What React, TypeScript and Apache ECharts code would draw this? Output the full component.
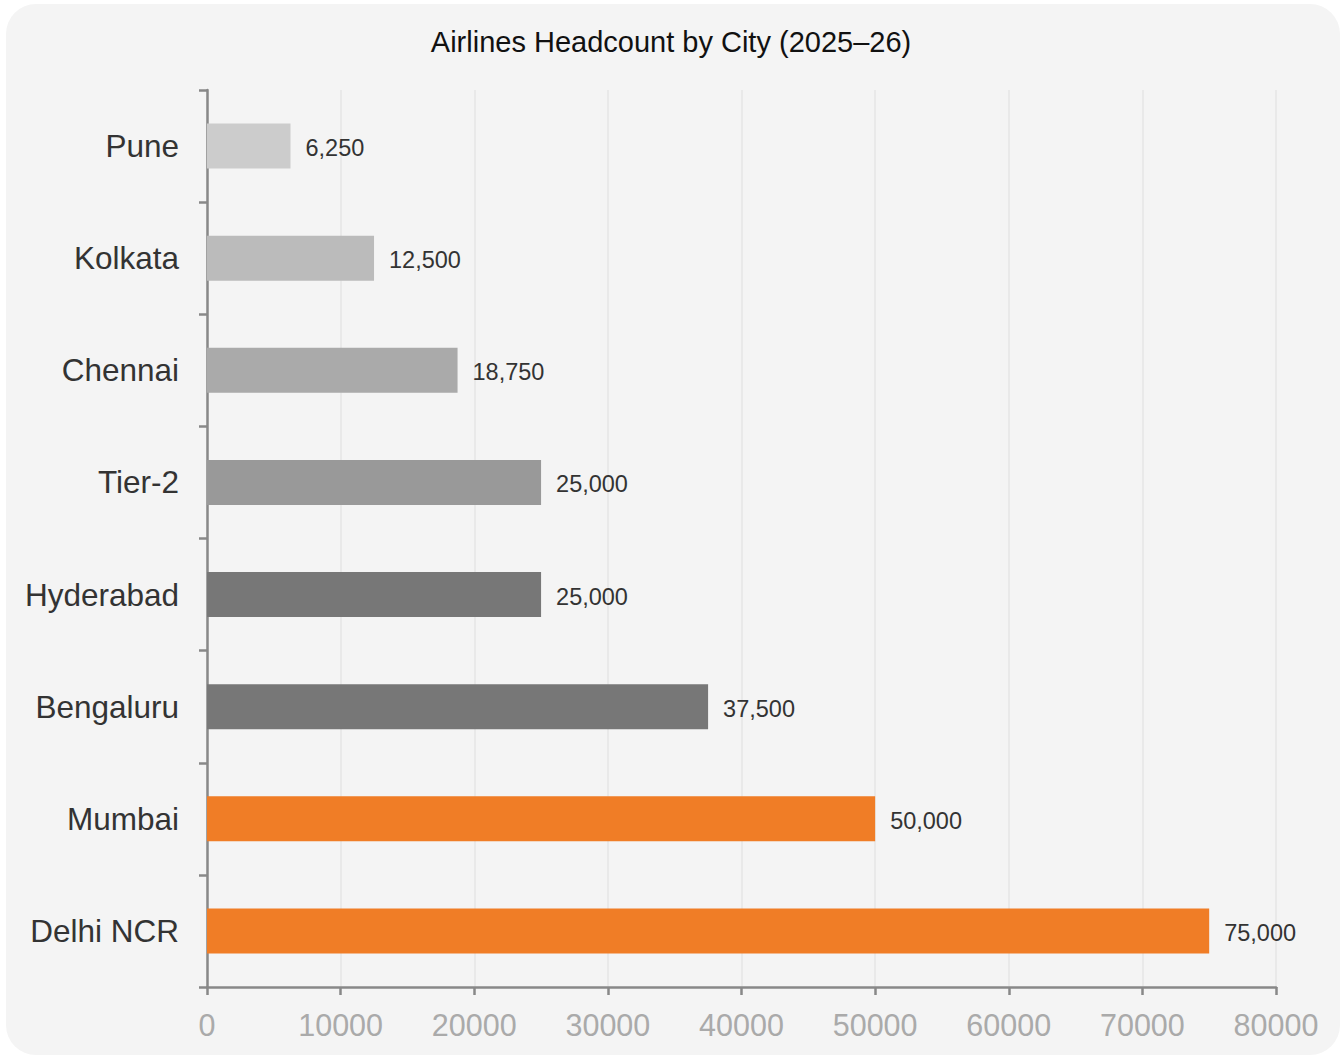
import React, { useEffect, useRef } from "react";
import * as echarts from "echarts";

const cities = ["Pune", "Kolkata", "Chennai", "Tier-2", "Hyderabad", "Bengaluru", "Mumbai", "Delhi NCR"];
const headcount = [6250, 12500, 18750, 25000, 25000, 37500, 50000, 75000];
const barColors = ["#cccccc", "#bbbbbb", "#aaaaaa", "#999999", "#777777", "#777777", "#f07d26", "#f07d26"];
const titleText = "Airlines Headcount by City (2025\u201326)";

const FONT = "Arial, 'Liberation Sans', Helvetica, sans-serif";

export default function App() {
  const ref = useRef<HTMLDivElement>(null);
  useEffect(() => {
    if (!ref.current) return;
    const chart = echarts.init(ref.current, undefined, { renderer: "svg" });
    chart.setOption({
      animation: false,
      backgroundColor: "transparent",
      textStyle: { fontFamily: FONT },
      graphic: [
        {
          type: "rect",
          z: -10,
          silent: true,
          shape: { x: 6, y: 4, width: 1334, height: 1051, r: 30 },
          style: { fill: "#f4f4f4" },
        },
      ],
      title: {
        text: titleText,
        left: "center",
        top: 22,
        textStyle: { fontFamily: FONT, fontSize: 29, fontWeight: "normal", color: "#111" },
      },
      grid: { left: 207, right: 66, top: 90, bottom: 71, containLabel: false },
      xAxis: {
        type: "value",
        min: 0,
        max: 80000,
        interval: 10000,
        axisLine: { show: true, lineStyle: { color: "#888", width: 2.5 } },
        axisTick: { show: true, length: 8, lineStyle: { color: "#888", width: 2.5 } },
        axisLabel: {
          color: "#aaa",
          fontSize: 30.5,
          fontFamily: FONT,
          margin: 22,
          formatter: (v: number) => String(v),
        },
        splitLine: { show: true, lineStyle: { color: "#e6e6e6", width: 1.5 } },
      },
      yAxis: {
        type: "category",
        data: cities,
        inverse: true,
        axisLine: { show: true, lineStyle: { color: "#888", width: 2.5 } },
        axisTick: { show: true, length: 8, lineStyle: { color: "#888", width: 2.5 } },
        axisLabel: { color: "#333", fontSize: 31.5, fontFamily: FONT, margin: 28 },
        splitLine: { show: false },
      },
      series: [
        {
          type: "bar",
          data: headcount.map((v, i) => ({ value: v, itemStyle: { color: barColors[i] } })),
          barWidth: 45,
          label: {
            show: true,
            position: "right",
            distance: 15,
            color: "#333",
            fontSize: 23.5,
            fontFamily: FONT,
            offset: [0, 2],
            formatter: (p: any) => Number(p.value).toLocaleString("en-US"),
          },
        },
      ],
    });
    return () => chart.dispose();
  }, []);
  return (
    <div
      ref={ref}
      style={{ position: "fixed", left: 0, top: 0, width: 1342, height: 1058, background: "#fff" }}
    />
  );
}
